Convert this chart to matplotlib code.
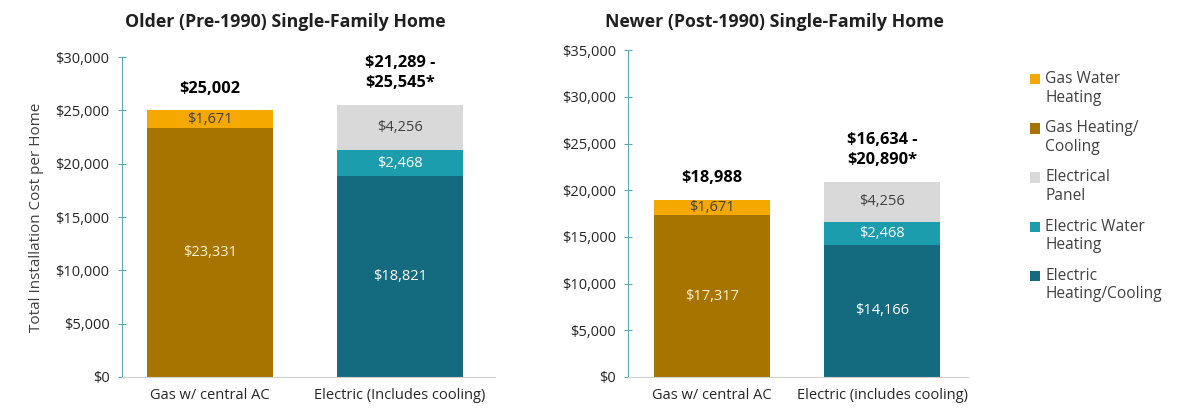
import numpy as np
import matplotlib.pyplot as plt
from matplotlib.patches import Rectangle
from matplotlib.legend_handler import HandlerBase

plt.rcParams['font.family'] = ['Open Sans', 'DejaVu Sans']

categories = ["Gas w/ central AC", "Electric (Includes cooling)"]
categories_new = ["Gas w/ central AC", "Electric (includes cooling)"]
series = ["Gas Water\nHeating", "Gas Heating/\nCooling", "Electrical\nPanel",
          "Electric Water\nHeating", "Electric\nHeating/Cooling"]
colors = ["#F5A800", "#A87400", "#D9D9D9", "#1C9DAD", "#146B80"]

# older home, stack order bottom -> top
old_gas = [23331, 1671]
old_elec = [18821, 2468, 4256]
old_totals = ["$25,002", "$21,289 -\n$25,545*"]

# newer home
new_gas = [17317, 1671]
new_elec = [14166, 2468, 4256]
new_totals = ["$18,988", "$16,634 -\n$20,890*"]

gas_cols = [colors[1], colors[0]]
elec_cols = [colors[4], colors[3], colors[2]]
gas_txt = ["#FFF4D0", "#404040"]
elec_txt = ["white", "white", "#404040"]


# legend square next to the first line of a two-line label
class TopSquare(HandlerBase):
    def create_artists(self, legend, orig_handle, xdescent, ydescent, width, height, fontsize, trans):
        r = Rectangle((-xdescent, -ydescent + 0.62 * fontsize), width, height,
                      facecolor=orig_handle.get_facecolor(), edgecolor='none', transform=trans)
        return [r]


fig = plt.figure(figsize=(11.81, 4.08), dpi=100)
ax1 = fig.add_axes([0.1033, 0.076, 0.316, 0.784])
ax2 = fig.add_axes([0.532, 0.076, 0.288, 0.801])


def draw(ax, gas, elec, totals, cats, ymax, width):
    for i, (vals, cols, tc) in enumerate([(gas, gas_cols, gas_txt), (elec, elec_cols, elec_txt)]):
        bottom = 0
        for v, c, t in zip(vals, cols, tc):
            ax.bar(i, v, bottom=bottom, color=c, width=width)
            ax.text(i, bottom + v / 2, "${:,}".format(v), ha='center', va='center',
                    color=t, fontsize=10.5)
            bottom += v
        ax.annotate(totals[i], (i, bottom), xytext=(0, 10), textcoords='offset points',
                    ha='center', va='bottom', fontsize=11.8, fontweight='bold',
                    linespacing=1.3)
    ax.set_ylim(0, ymax)
    ax.set_xticks([0, 1])
    ax.set_xticklabels(cats, fontsize=10.5, color='#262626')
    ax.tick_params(axis='x', length=0, pad=8)
    ax.tick_params(axis='y', direction='inout', length=6, color='#5AA9B5',
                   labelsize=10.5, labelcolor='#262626', pad=6)
    ax.yaxis.set_major_formatter(plt.FuncFormatter(lambda v, p: "${:,.0f}".format(v)))
    for s in ['top', 'right']:
        ax.spines[s].set_visible(False)
    ax.spines['left'].set_color('#5AA9B5')
    ax.spines['bottom'].set_color('#D0D0D0')


draw(ax1, old_gas, old_elec, old_totals, categories, 30000, 0.66)
ax1.set_xlim(-0.463, 1.5)
ax1.set_yticks(np.arange(0, 30001, 5000))
ax1.set_ylabel("Total Installation Cost per Home", fontsize=11, color='#404040', labelpad=8)

draw(ax2, new_gas, new_elec, new_totals, categories_new, 35000, 0.68)
ax2.set_xlim(-0.49, 1.506)
ax2.set_yticks(np.arange(0, 35001, 5000))

fig.text(0.242, 0.945, "Older (Pre-1990) Single-Family Home", ha='center', va='center',
         fontsize=12.8, fontweight='bold', color='#202020')
fig.text(0.656, 0.945, "Newer (Post-1990) Single-Family Home", ha='center', va='center',
         fontsize=12.8, fontweight='bold', color='#202020')

handles = [Rectangle((0, 0), 1, 1, color=c) for c in colors]
fig.legend(handles, series, loc='upper left', bbox_to_anchor=(0.86, 0.86),
           frameon=False, fontsize=11.2, handlelength=0.65, handleheight=0.65,
           handletextpad=0.35, labelspacing=0.95, labelcolor='#404040',
           handler_map={Rectangle: TopSquare()})

plt.savefig("out.png", dpi=100)
